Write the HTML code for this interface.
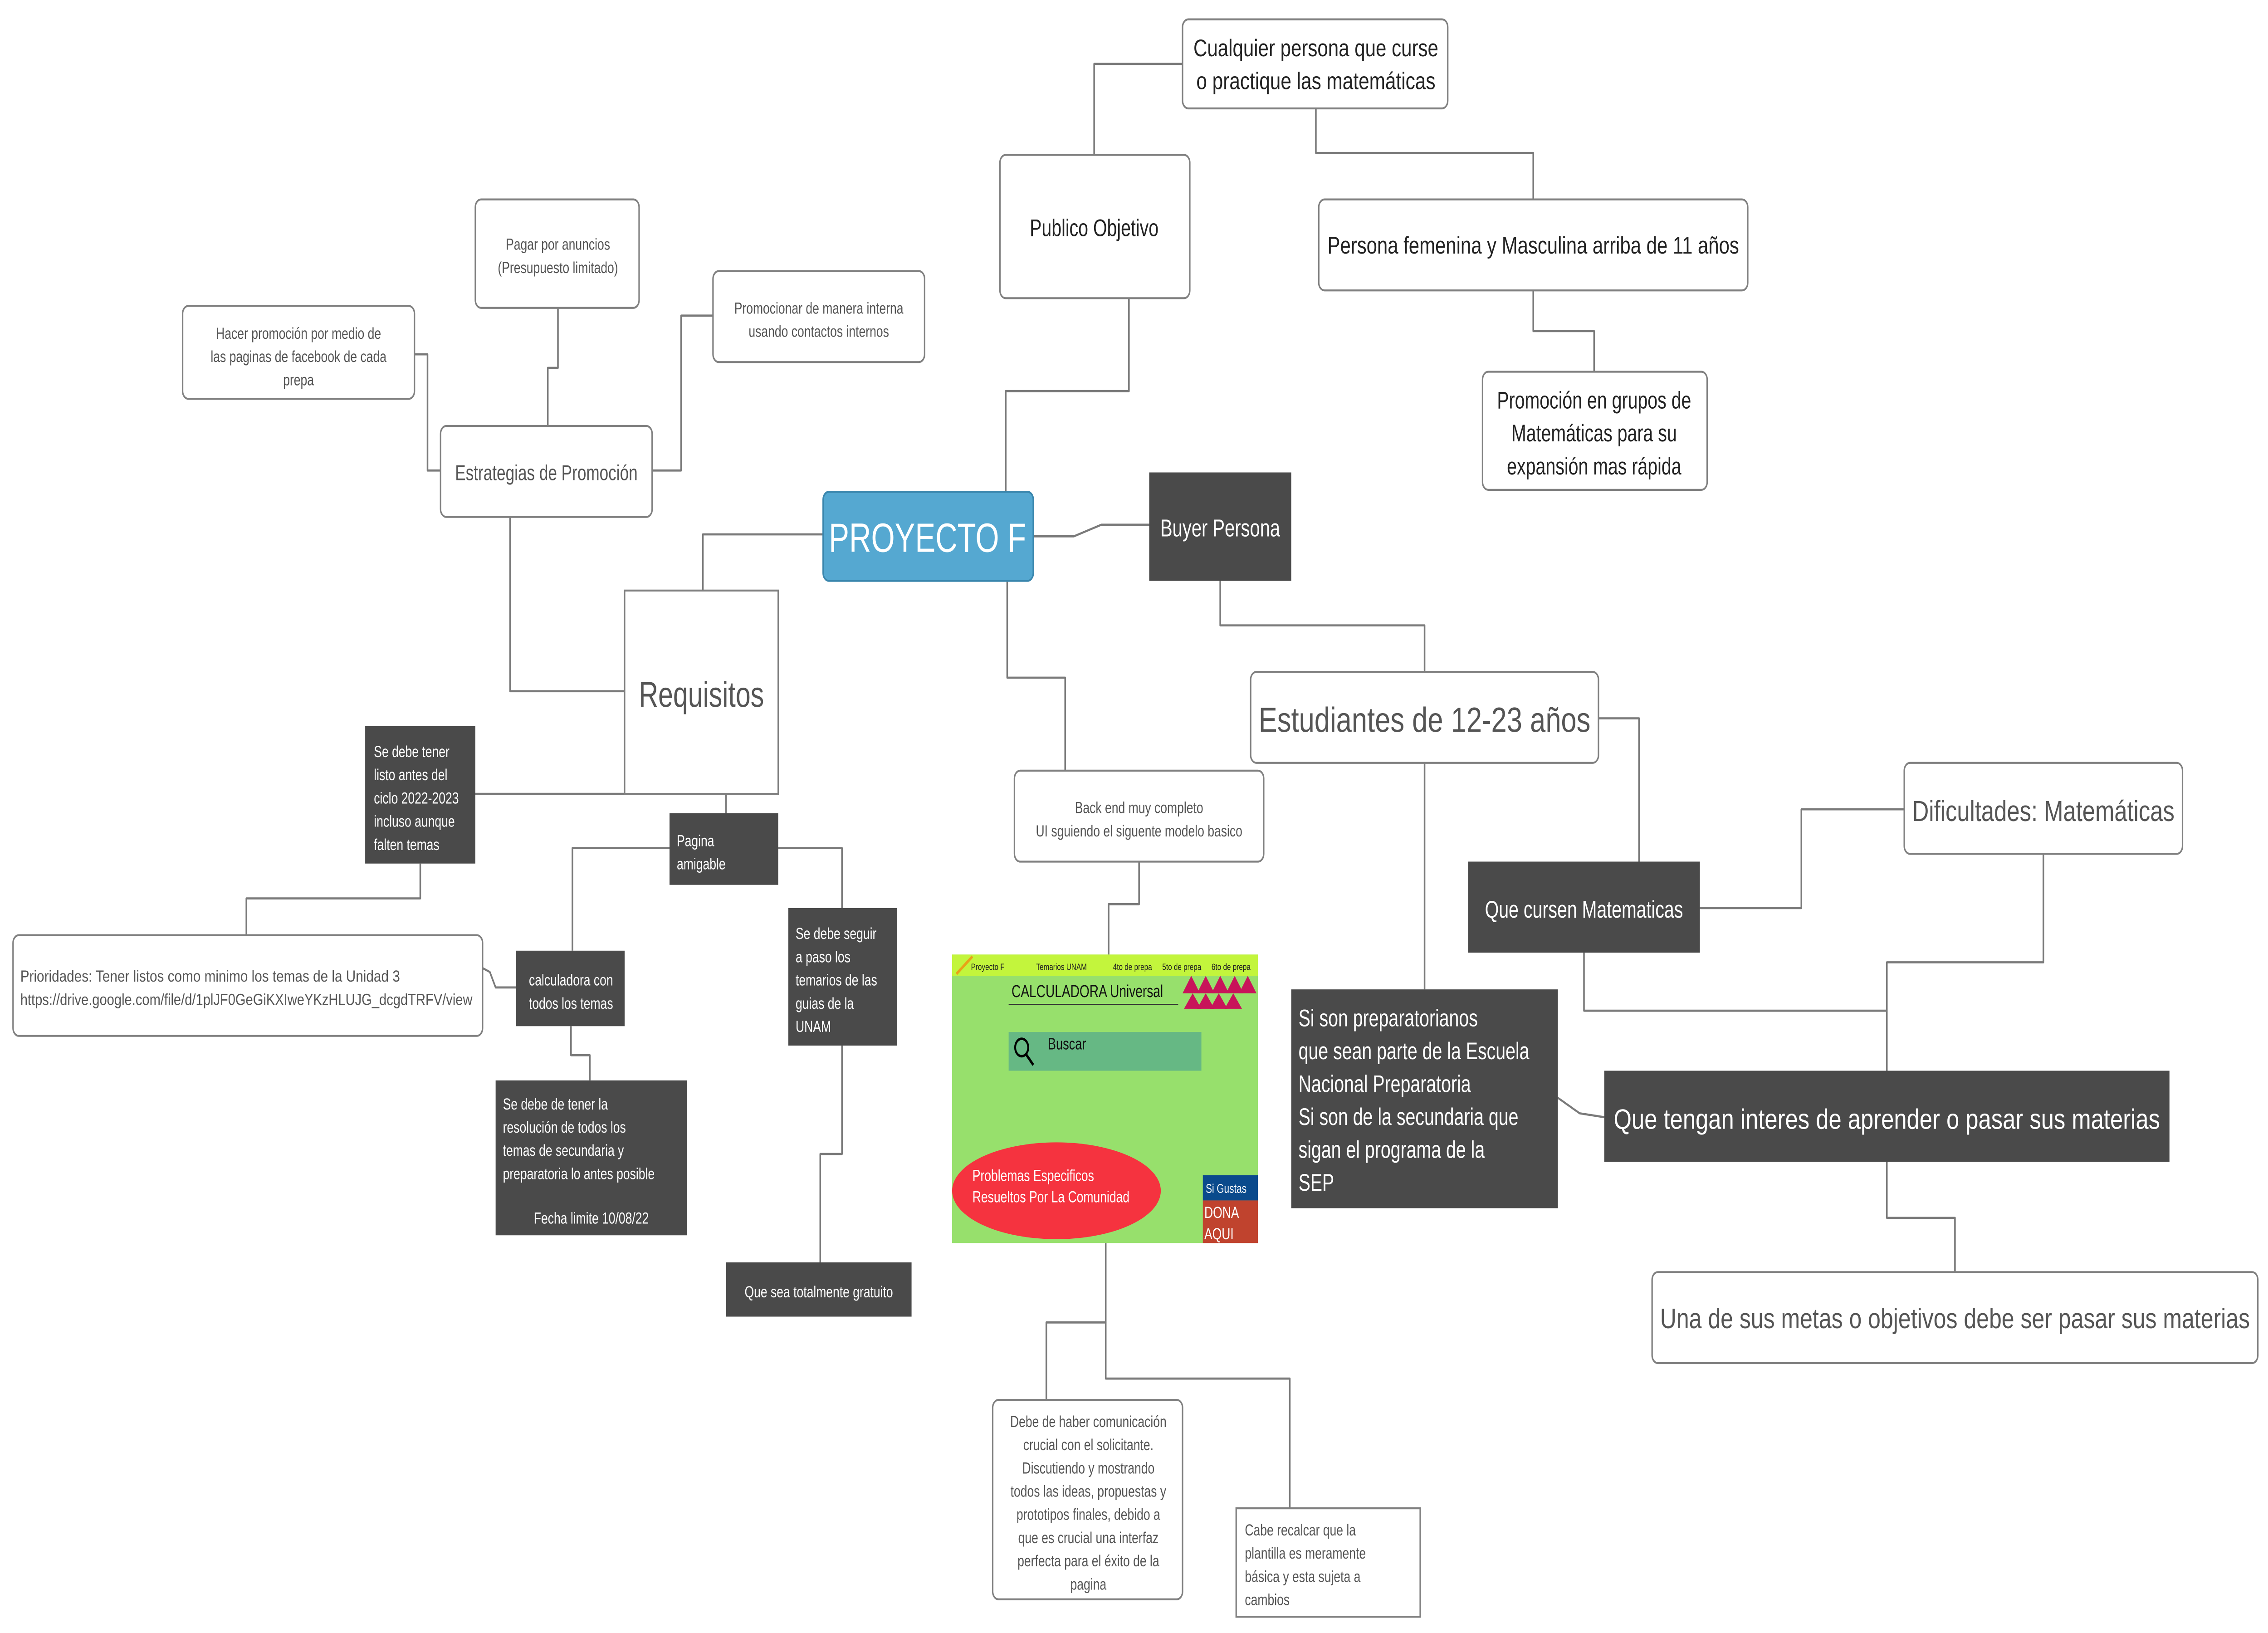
<!DOCTYPE html>
<html><head><meta charset="utf-8"><style>
html,body{margin:0;padding:0;background:#fff;width:100%;height:100%;overflow:hidden}
svg{display:block;overflow:hidden;position:fixed;left:0;top:0;width:100%;height:100%}
text{font-family:"Liberation Sans",sans-serif}
</style></head><body>
<svg viewBox="0 0 1565 843.4" preserveAspectRatio="none" xmlns="http://www.w3.org/2000/svg">
<rect width="1565" height="843.4" fill="#fff"/>
<g fill="none" stroke="#7a7a7a" stroke-width="1.1" stroke-linejoin="round">
<polyline points="755,80 755,33 816,33"/>
<polyline points="908,56 908,79 1058,79 1058,103"/>
<polyline points="1058,150 1058,171 1100,171 1100,192"/>
<polyline points="779,154 779,202 694,202 694,254"/>
<polyline points="713,277 741,277 760,271 793,271"/>
<polyline points="842,300 842,323 983,323 983,347"/>
<polyline points="1103,371 1131,371 1131,448"/>
<polyline points="983,394 983,511"/>
<polyline points="1173,469 1243,469 1243,418 1314,418"/>
<polyline points="1093,492 1093,522 1302,522 1302,553"/>
<polyline points="1410,441 1410,497 1302,497 1302,553"/>
<polyline points="1075,567 1090,575 1107,577"/>
<polyline points="1302,600 1302,629 1349,629 1349,657"/>
<polyline points="695,300 695,350 735,350 735,398"/>
<polyline points="786,445 786,467 765,467 765,493"/>
<polyline points="763,642 763,683 722,683 722,723"/>
<polyline points="763,683 763,712 890,712 890,779"/>
<polyline points="568,276 485,276 485,305"/>
<polyline points="352,267 352,357 431,357"/>
<polyline points="378,220 378,190 385,190 385,159"/>
<polyline points="304,243 295,243 295,183 286,183"/>
<polyline points="450,243 470,243 470,163 492,163"/>
<polyline points="328,410 501,410 501,420"/>
<polyline points="290,446 290,464 170,464 170,483"/>
<polyline points="462,438 395,438 395,491"/>
<polyline points="537,438 581,438 581,469"/>
<polyline points="394,530 394,545 407,545 407,558"/>
<polyline points="333,500 338,502 342,510 356,510"/>
<polyline points="581,540 581,596 566,596 566,652"/>
</g>
<g fill="#fff" stroke="#808080" stroke-width="1">
<rect x="816" y="10" width="183" height="46" rx="4"/>
<rect x="690" y="80" width="131" height="74" rx="4"/>
<rect x="910" y="103" width="296" height="47" rx="4"/>
<rect x="1023" y="192" width="155" height="61" rx="4"/>
<rect x="863" y="347" width="240" height="47" rx="4"/>
<rect x="1314" y="394" width="192" height="47" rx="4"/>
<rect x="1140" y="657" width="418" height="47" rx="4"/>
<rect x="700" y="398" width="172" height="47" rx="4"/>
<rect x="685" y="723" width="131" height="103" rx="4"/>
<rect x="853" y="779" width="127" height="56"/>
<rect x="328" y="103" width="113" height="56" rx="4"/>
<rect x="126" y="158" width="160" height="48" rx="4"/>
<rect x="492" y="140" width="146" height="47" rx="4"/>
<rect x="304" y="220" width="146" height="47" rx="4"/>
<rect x="431" y="305" width="106" height="105"/>
<rect x="9" y="483" width="324" height="52" rx="4"/>
</g>
<rect x="568" y="254" width="145" height="46" rx="4" fill="#55a8d1" stroke="#3a86ad" stroke-width="1"/>
<g fill="#4a4a4a">
<rect x="793" y="244" width="98" height="56"/>
<rect x="1013" y="445" width="160" height="47"/>
<rect x="891" y="511" width="184" height="113"/>
<rect x="1107" y="553" width="390" height="47"/>
<rect x="252" y="375" width="76" height="71"/>
<rect x="462" y="420" width="75" height="37"/>
<rect x="544" y="469" width="75" height="71"/>
<rect x="356" y="491" width="75" height="39"/>
<rect x="342" y="558" width="132" height="80"/>
<rect x="501" y="652" width="128" height="28"/>
</g>
<g fill="#222" text-anchor="middle" font-size="12.3">
<text x="908" y="29" textLength="169" lengthAdjust="spacingAndGlyphs">Cualquier persona que curse</text>
<text x="908" y="46" textLength="165" lengthAdjust="spacingAndGlyphs">o practique las matemáticas</text>
<text x="755" y="122">Publico Objetivo</text>
<text x="1058" y="131" textLength="284" lengthAdjust="spacingAndGlyphs">Persona femenina y Masculina arriba de 11 años</text>
<text x="1100" y="211">Promoción en grupos de</text>
<text x="1100" y="228">Matemáticas para su</text>
<text x="1100" y="245">expansión mas rápida</text>
</g>
<text x="640" y="285" text-anchor="middle" font-size="21" fill="#fff">PROYECTO F</text>
<text x="842" y="277" text-anchor="middle" font-size="12.5" fill="#fff">Buyer Persona</text>
<text x="983" y="378" text-anchor="middle" font-size="18" fill="#555" textLength="229" lengthAdjust="spacingAndGlyphs">Estudiantes de 12-23 años</text>
<text x="1410" y="424" text-anchor="middle" font-size="15" fill="#555" textLength="181" lengthAdjust="spacingAndGlyphs">Dificultades: Matemáticas</text>
<text x="1093" y="474" text-anchor="middle" font-size="12.3" fill="#fff">Que cursen Matematicas</text>
<g fill="#fff" font-size="12.3">
<text x="896" y="530">Si son preparatorianos</text>
<text x="896" y="547">que sean parte de la Escuela</text>
<text x="896" y="564">Nacional Preparatoria</text>
<text x="896" y="581">Si son de la secundaria que</text>
<text x="896" y="598">sigan el programa de la</text>
<text x="896" y="615">SEP</text>
</g>
<text x="1302" y="583" text-anchor="middle" font-size="14.5" fill="#fff" textLength="377" lengthAdjust="spacingAndGlyphs">Que tengan interes de aprender o pasar sus materias</text>
<text x="1349" y="686" text-anchor="middle" font-size="14.5" fill="#555" textLength="407" lengthAdjust="spacingAndGlyphs">Una de sus metas o objetivos debe ser pasar sus materias</text>
<g fill="#555" font-size="8.3" text-anchor="middle">
<text x="786" y="420">Back end muy completo</text>
<text x="786" y="432">UI sguiendo el siguente modelo basico</text>
<text x="751" y="737">Debe de haber comunicación</text>
<text x="751" y="749">crucial con el solicitante.</text>
<text x="751" y="761">Discutiendo y mostrando</text>
<text x="751" y="773">todos las ideas, propuestas y</text>
<text x="751" y="785">prototipos finales, debido a</text>
<text x="751" y="797">que es crucial una interfaz</text>
<text x="751" y="809">perfecta para el éxito de la</text>
<text x="751" y="821">pagina</text>
<text x="385" y="129">Pagar por anuncios</text>
<text x="385" y="141">(Presupuesto limitado)</text>
<text x="206" y="175">Hacer promoción por medio de</text>
<text x="206" y="187">las paginas de facebook de cada</text>
<text x="206" y="199">prepa</text>
<text x="565" y="162">Promocionar de manera interna</text>
<text x="565" y="174">usando contactos internos</text>
</g>
<g fill="#555" font-size="8.3">
<text x="859" y="793">Cabe recalcar que la</text>
<text x="859" y="805">plantilla es meramente</text>
<text x="859" y="817">básica y esta sujeta a</text>
<text x="859" y="829">cambios</text>
<text x="14" y="507" textLength="262" lengthAdjust="spacingAndGlyphs">Prioridades: Tener listos como minimo los temas de la Unidad 3</text>
<text x="14" y="519" textLength="312" lengthAdjust="spacingAndGlyphs">https://drive.google.com/file/d/1plJF0GeGiKXIweYKzHLUJG_dcgdTRFV/view</text>
</g>
<text x="377" y="248" text-anchor="middle" font-size="11" fill="#555">Estrategias de Promoción</text>
<text x="484" y="365" text-anchor="middle" font-size="18.5" fill="#555">Requisitos</text>
<g fill="#fff" font-size="8.3">
<text x="258" y="391">Se debe tener</text>
<text x="258" y="403">listo antes del</text>
<text x="258" y="415">ciclo 2022-2023</text>
<text x="258" y="427">incluso aunque</text>
<text x="258" y="439">falten temas</text>
<text x="467" y="437">Pagina</text>
<text x="467" y="449">amigable</text>
<text x="549" y="485">Se debe seguir</text>
<text x="549" y="497">a paso los</text>
<text x="549" y="509">temarios de las</text>
<text x="549" y="521">guias de la</text>
<text x="549" y="533">UNAM</text>
<text x="347" y="573">Se debe de tener  la</text>
<text x="347" y="585">resolución de todos los</text>
<text x="347" y="597">temas  de secundaria y</text>
<text x="347" y="609">preparatoria lo antes posible</text>
</g>
<g fill="#fff" font-size="8.3" text-anchor="middle">
<text x="394" y="509">calculadora con</text>
<text x="394" y="521">todos los temas</text>
<text x="408" y="632">Fecha limite 10/08/22</text>
<text x="565" y="670">Que sea totalmente gratuito</text>
</g>
<rect x="657" y="493" width="211" height="149" fill="#97e06c"/>
<rect x="657" y="493" width="211" height="11" fill="#c3f53c"/>
<line x1="660" y1="503" x2="671" y2="494" stroke="#e8a317" stroke-width="1.5"/>
<g font-size="4.8" fill="#222">
<text x="670" y="501">Proyecto F</text>
<text x="715" y="501">Temarios UNAM</text>
<text x="768" y="501">4to de prepa</text>
<text x="802" y="501">5to de prepa</text>
<text x="836" y="501">6to de prepa</text>
</g>
<text x="698" y="515" font-size="8.8" fill="#111">CALCULADORA Universal</text>
<line x1="696" y1="518.7" x2="813" y2="518.7" stroke="#333" stroke-width="0.5"/>
<g fill="#c8145a">
<polygon points="822,504 816,513 828,513"/><polygon points="832,504 826,513 838,513"/><polygon points="842,504 836,513 848,513"/><polygon points="852,504 846,513 858,513"/><polygon points="861,504 855,513 867,513"/>
<polygon points="823,513 817,521 829,521"/><polygon points="832,513 826,521 838,521"/><polygon points="841,513 835,521 847,521"/><polygon points="851,513 845,521 857,521"/>
</g>
<rect x="696" y="533" width="133" height="20" fill="#66b884"/>
<circle cx="705" cy="541" r="4.5" fill="none" stroke="#000" stroke-width="1.3"/>
<line x1="708" y1="544.5" x2="713" y2="550" stroke="#000" stroke-width="1.5"/>
<text x="723" y="542" font-size="8.5" fill="#111">Buscar</text>
<ellipse cx="729" cy="615" rx="72" ry="25" fill="#f5333f"/>
<text x="671" y="610" font-size="8.3" fill="#fff">Problemas Especificos</text>
<text x="671" y="621" font-size="8.3" fill="#fff">Resueltos Por La Comunidad</text>
<rect x="830" y="607" width="38" height="13" fill="#0a4a8c"/>
<rect x="830" y="620" width="38" height="22" fill="#c0432e"/>
<text x="832" y="616" font-size="6.5" fill="#fff">Si Gustas</text>
<text x="831" y="629" font-size="8.3" fill="#fff">DONA</text>
<text x="831" y="640" font-size="8.3" fill="#fff">AQUI</text>
</svg>
</body></html>
